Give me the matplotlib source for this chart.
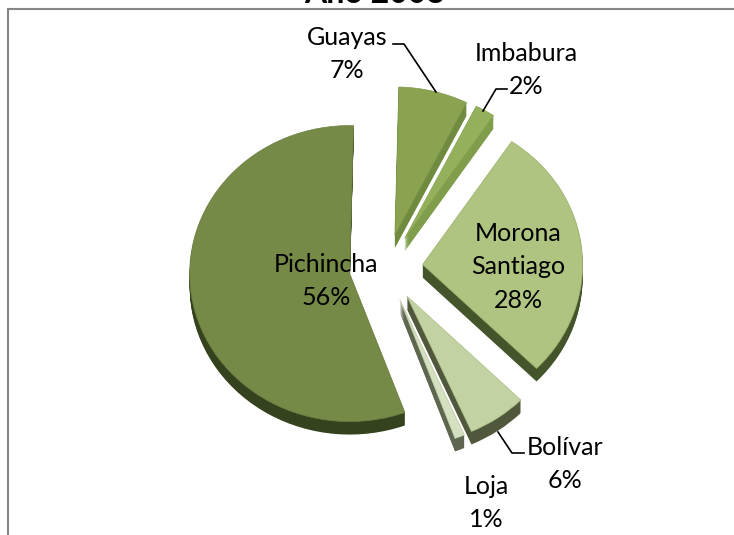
import matplotlib
matplotlib.use('Agg')
import matplotlib.pyplot as plt

plt.rcParams['font.family'] = ['Lato', 'DejaVu Sans']

provinces = ['Guayas', 'Imbabura', 'Morona\nSantiago', 'Bolívar', 'Loja', 'Pichincha']
shares = [7, 2, 28, 6, 1, 56]
top_colors = ['#8aa351', '#94b05a', '#aec480', '#c3d2a3', '#d5e0c0', '#758a47']
side_colors = ['#708a40', '#7f9d4b', '#44552c', '#50583c', '#5e6650', '#34431e']

W, H = 734, 535
cx, cy = 386, 268   # pie centre, pixels
rx, ry = 160, 148   # squashed radii, pixels
depth = 13
blow = 0.23
start = 88.6

fig = plt.figure(figsize=(W / 100, H / 100), dpi=100)

ax = fig.add_axes([0, 0, 1, 1])
# side walls first, stacked pixel by pixel
for d in range(depth, 0, -1):
    ax.pie(shares, explode=[blow] * 6, startangle=start, counterclock=False,
           colors=side_colors, center=(0, -d / ry),
           wedgeprops={'linewidth': 0.6, 'edgecolor': 'none'})
wedges, _ = ax.pie(shares, explode=[blow] * 6, startangle=start, counterclock=False,
                   colors=top_colors, wedgeprops={'linewidth': 0.5})
for w, c in zip(wedges, ['#7d9648', '#86a14f', '#9bb36c', '#aec08a', '#bccba2', '#6c8043']):
    w.set_edgecolor(c)
ax.set_aspect('auto')
ax.set_xlim(-cx / rx, (W - cx) / rx)
ax.set_ylim((cy - H) / ry, cy / ry)
ax.axis('off')

# overlay in pixel coordinates for frame, title, labels and leaders
ov = fig.add_axes([0, 0, 1, 1])
ov.set_xlim(0, W)
ov.set_ylim(H, 0)
ov.axis('off')
ov.patch.set_alpha(0)

ov.plot([8, 8, W], [H, 9, 9], color='#868686', lw=1.5, solid_joinstyle='miter')
ov.text(375, 3, 'Año 2008', fontsize=23, fontweight='bold', ha='center', va='baseline')

label_pos = [(347, 54), (526, 70), (518, 267), (565, 464), (486, 503), (326, 281)]
for name, val, (x, y) in zip(provinces, shares, label_pos):
    ov.text(x, y, f'{name}\n{val}%', fontsize=18, ha='center', va='center',
            linespacing=1.55, color='#000000')

ov.plot([393, 404, 436], [44, 44, 92], color='black', lw=1.2)
ov.plot([507, 496, 483], [89, 89, 111], color='black', lw=1.2)
ov.plot([524, 512, 498], [453, 453, 432], color='black', lw=1.2)

fig.savefig('out.png', dpi=100)
